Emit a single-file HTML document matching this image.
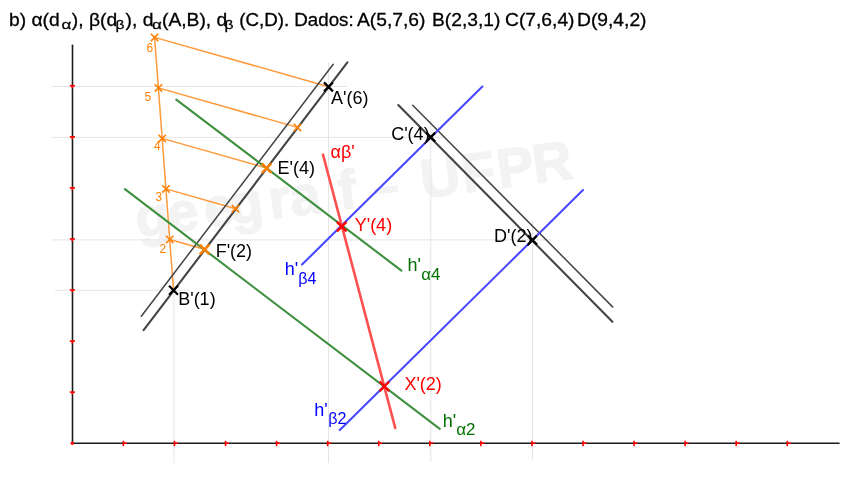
<!DOCTYPE html>
<html><head><meta charset="utf-8">
<style>
html,body{margin:0;padding:0;background:#fff;}
body{width:856px;height:478px;overflow:hidden;position:relative;}
svg{position:absolute;left:0;top:0;will-change:transform;}
text{font-family:"Liberation Sans",sans-serif;}
</style></head><body>
<svg width="856" height="478" viewBox="0 0 856 478">
<!-- watermark -->
<g transform="translate(140.6 236.8) rotate(-7.7)" fill="#f3f3f3"><text font-size="55" font-weight="bold" stroke="#f3f3f3" stroke-width="1.4"><tspan x="-2.5">g</tspan><tspan x="29.9">e</tspan><tspan x="66.2">e</tspan><tspan x="92.1">g</tspan><tspan x="131.4">r</tspan><tspan x="153.0">a</tspan><tspan x="201.8">f</tspan><tspan x="285.0">U</tspan><tspan x="326.4">F</tspan><tspan x="362.2">P</tspan><tspan x="398.0">R</tspan></text><rect x="237.5" y="-16.7" width="24" height="6.4"/></g>
<!-- grid lines -->
<g stroke="#e5e5e5" stroke-width="1" fill="none">
<line x1="52" y1="86.5" x2="347" y2="86.5"/>
<line x1="52" y1="137.4" x2="444" y2="137.4"/>
<line x1="52" y1="239.9" x2="551" y2="239.9"/>
<line x1="55" y1="290.3" x2="190" y2="290.3"/>
<line x1="174" y1="272" x2="174" y2="463"/>
<line x1="328.5" y1="62" x2="328.5" y2="463"/>
<line x1="430.8" y1="119" x2="430.8" y2="462"/>
<line x1="532.5" y1="221" x2="532.5" y2="460"/>
</g>
<!-- axes -->
<g stroke="#1c1c1c" stroke-width="1.6" stroke-linecap="round">
<line x1="72.5" y1="45.2" x2="72.5" y2="443.3"/>
<line x1="72.5" y1="443.3" x2="839" y2="443.3"/>
</g>
<!-- ticks -->
<g stroke="#ff0000" stroke-width="1.6">
<line x1="123.37" y1="440.8" x2="123.37" y2="446.2"/><line x1="123.37" y1="443.2" x2="126.87" y2="443.2"/>
<line x1="174.44" y1="440.8" x2="174.44" y2="446.2"/><line x1="174.44" y1="443.2" x2="177.94" y2="443.2"/>
<line x1="225.51" y1="440.8" x2="225.51" y2="446.2"/><line x1="225.51" y1="443.2" x2="229.01" y2="443.2"/>
<line x1="276.58" y1="440.8" x2="276.58" y2="446.2"/><line x1="276.58" y1="443.2" x2="280.08" y2="443.2"/>
<line x1="327.65" y1="440.8" x2="327.65" y2="446.2"/><line x1="327.65" y1="443.2" x2="331.15" y2="443.2"/>
<line x1="378.72" y1="440.8" x2="378.72" y2="446.2"/><line x1="378.72" y1="443.2" x2="382.22" y2="443.2"/>
<line x1="429.79" y1="440.8" x2="429.79" y2="446.2"/><line x1="429.79" y1="443.2" x2="433.29" y2="443.2"/>
<line x1="480.86" y1="440.8" x2="480.86" y2="446.2"/><line x1="480.86" y1="443.2" x2="484.36" y2="443.2"/>
<line x1="531.93" y1="440.8" x2="531.93" y2="446.2"/><line x1="531.93" y1="443.2" x2="535.43" y2="443.2"/>
<line x1="583.00" y1="440.8" x2="583.00" y2="446.2"/><line x1="583.00" y1="443.2" x2="586.50" y2="443.2"/>
<line x1="634.07" y1="440.8" x2="634.07" y2="446.2"/><line x1="634.07" y1="443.2" x2="637.57" y2="443.2"/>
<line x1="685.14" y1="440.8" x2="685.14" y2="446.2"/><line x1="685.14" y1="443.2" x2="688.64" y2="443.2"/>
<line x1="736.21" y1="440.8" x2="736.21" y2="446.2"/><line x1="736.21" y1="443.2" x2="739.71" y2="443.2"/>
<line x1="787.28" y1="440.8" x2="787.28" y2="446.2"/><line x1="787.28" y1="443.2" x2="790.78" y2="443.2"/>
<line x1="69.8" y1="392.13" x2="75" y2="392.13"/><line x1="72.3" y1="392.13" x2="72.3" y2="394.63"/>
<line x1="69.8" y1="341.06" x2="75" y2="341.06"/><line x1="72.3" y1="341.06" x2="72.3" y2="343.56"/>
<line x1="69.8" y1="289.99" x2="75" y2="289.99"/><line x1="72.3" y1="289.99" x2="72.3" y2="292.49"/>
<line x1="69.8" y1="238.92" x2="75" y2="238.92"/><line x1="72.3" y1="238.92" x2="72.3" y2="241.42"/>
<line x1="69.8" y1="187.85" x2="75" y2="187.85"/><line x1="72.3" y1="187.85" x2="72.3" y2="190.35"/>
<line x1="69.8" y1="136.78" x2="75" y2="136.78"/><line x1="72.3" y1="136.78" x2="72.3" y2="139.28"/>
<line x1="69.8" y1="85.71" x2="75" y2="85.71"/><line x1="72.3" y1="85.71" x2="72.3" y2="88.21"/>
</g>
<!-- orange construction -->
<g stroke="#ff9a3c" stroke-width="1.5" fill="none">
<line x1="154.6" y1="37.4" x2="173.5" y2="290"/>
<line x1="154.6" y1="37.4" x2="328.5" y2="86.7"/>
<line x1="158.4" y1="87.9" x2="297.5" y2="127.4"/>
<line x1="162.2" y1="138.4" x2="266.5" y2="168"/>
<line x1="166.0" y1="188.9" x2="235.5" y2="208.7"/>
<line x1="169.7" y1="239.5" x2="204.5" y2="249.3"/>
</g>
<!-- dark lines -->
<g stroke="#444" fill="none" stroke-linecap="round">
<line x1="347.4" y1="62.3" x2="143.6" y2="330.2" stroke-width="2.1"/>
<line x1="333.2" y1="64.3" x2="141.3" y2="316.2" stroke-width="1.5"/>
<line x1="398.3" y1="105.1" x2="612.4" y2="321.7" stroke-width="2.1"/>
<line x1="412.7" y1="105.2" x2="612.6" y2="306.9" stroke-width="1.5"/>
</g>
<!-- green -->
<g stroke="#3f903f" stroke-width="2.1" fill="none" stroke-linecap="round">
<line x1="176.3" y1="99.6" x2="401.4" y2="270.6"/>
<line x1="124.9" y1="189.2" x2="439.8" y2="428.9"/>
</g>
<!-- blue -->
<g stroke="#4848ff" stroke-width="2.1" fill="none" stroke-linecap="round">
<line x1="302" y1="264.6" x2="482.4" y2="86.5"/>
<line x1="339.8" y1="430.1" x2="583" y2="190.1"/>
</g>
<!-- red -->
<line x1="323" y1="154.7" x2="395.2" y2="427.9" stroke="#ff5050" stroke-width="2.6" stroke-linecap="round"/>
<!-- markers -->
<g fill="none">
<path d="M150.90 33.70L158.30 41.10M150.90 41.10L158.30 33.70" stroke="#ff8000" stroke-width="1.6"/>
<path d="M154.70 84.20L162.10 91.60M154.70 91.60L162.10 84.20" stroke="#ff8000" stroke-width="1.6"/>
<path d="M158.50 134.70L165.90 142.10M158.50 142.10L165.90 134.70" stroke="#ff8000" stroke-width="1.6"/>
<path d="M162.30 185.20L169.70 192.60M162.30 192.60L169.70 185.20" stroke="#ff8000" stroke-width="1.6"/>
<path d="M166.00 235.80L173.40 243.20M166.00 243.20L173.40 235.80" stroke="#ff8000" stroke-width="1.6"/>
<path d="M293.80 123.70L301.20 131.10M293.80 131.10L301.20 123.70" stroke="#ff8000" stroke-width="1.6"/>
<path d="M231.80 205.00L239.20 212.40M231.80 212.40L239.20 205.00" stroke="#ff8000" stroke-width="1.6"/>
<path d="M261.80 163.40L271.40 173.00M261.80 173.00L271.40 163.40" stroke="#ff8000" stroke-width="2.4"/>
<path d="M199.80 244.70L209.40 254.30M199.80 254.30L209.40 244.70" stroke="#ff8000" stroke-width="2.4"/>
<path d="M324.00 82.40L333.00 91.40M324.00 91.40L333.00 82.40" stroke="#000" stroke-width="2.2"/>
<path d="M169.00 285.70L178.00 294.70M169.00 294.70L178.00 285.70" stroke="#000" stroke-width="2.2"/>
<path d="M426.20 132.60L435.20 141.60M426.20 141.60L435.20 132.60" stroke="#000" stroke-width="2.2"/>
<path d="M528.00 235.60L537.00 244.60M528.00 244.60L537.00 235.60" stroke="#000" stroke-width="2.2"/>
<path d="M336.90 221.80L346.50 231.40M336.90 231.40L346.50 221.80" stroke="#ff0000" stroke-width="2.4"/>
<path d="M379.60 381.50L389.20 391.10M379.60 391.10L389.20 381.50" stroke="#ff0000" stroke-width="2.4"/>
<circle cx="72.3" cy="443.2" r="1.7" fill="#ff0000"/>
</g>
<!-- labels -->
<g font-size="18" fill="#000">
<text x="331" y="104.3">A'(6)</text>
<text x="178.2" y="305">B'(1)</text>
<text x="391.2" y="140">C'(4)</text>
<text x="494" y="242">D'(2)</text>
<text x="277.5" y="173.7">E'(4)</text>
<text x="215.7" y="256.5">F'(2)</text>
</g>
<g font-size="18" fill="#ff0000">
<text x="354.7" y="230.6">Y'(4)</text>
<text x="404.4" y="389.9">X'(2)</text>
<text x="330.5" y="157.6">αβ'</text>
</g>
<g font-size="12" fill="#ff8000">
<text x="146.5" y="52">6</text>
<text x="144.5" y="100.5">5</text>
<text x="154" y="150">4</text>
<text x="155.5" y="201">3</text>
<text x="159.5" y="252.5">2</text>
</g>
<g font-size="18" fill="#007000">
<text x="407.5" y="271.4">h'</text><text x="421.2" y="280.3" font-size="16" transform="translate(421.2 0) scale(1.05 1) translate(-421.2 0)">α4</text>
<text x="442.8" y="426.8">h'</text><text x="456.3" y="434.8" font-size="16" transform="translate(456.3 0) scale(1.06 1) translate(-456.3 0)">α2</text>
</g>
<g font-size="18" fill="#0000ff">
<text x="284.8" y="274.5">h'</text><text x="298.3" y="283.6" font-size="16">β4</text>
<text x="314.3" y="416">h'</text><text x="328.3" y="424.2" font-size="16">β2</text>
</g>
<!-- title -->
<g fill="#000" stroke="#000" stroke-width="0.3">
<text transform="translate(9 26.4) scale(1.07 1)" font-size="18">b) α(d</text>
<text transform="translate(61.6 29.2) scale(1.3 1)" font-size="13">α</text>
<text transform="translate(71.8 26.4) scale(1.07 1)" font-size="18">), β(d</text>
<text transform="translate(115.6 29) scale(1.2 1)" font-size="13">β</text>
<text transform="translate(125.6 26.4) scale(1.07 1)" font-size="18">), d</text>
<text transform="translate(152 29.2) scale(1.3 1)" font-size="13">α</text>
<text transform="translate(162 26.4) scale(1.07 1)" font-size="18">(A,B), d</text>
<text transform="translate(224.4 29) scale(1.2 1)" font-size="13">β</text>
<text transform="translate(239.2 26.4) scale(1.04 1)" font-size="18">(C,D). Dados:</text>
<text transform="translate(357 26.4) scale(1.07 1)" font-size="18">A(5,7,6)</text>
<text transform="translate(432 26.4) scale(1.07 1)" font-size="18">B(2,3,1)</text>
<text transform="translate(505 26.4) scale(1.07 1)" font-size="18">C(7,6,4)</text>
<text transform="translate(577 26.4) scale(1.07 1)" font-size="18">D(9,4,2)</text>
</g>
</svg>
</body></html>
